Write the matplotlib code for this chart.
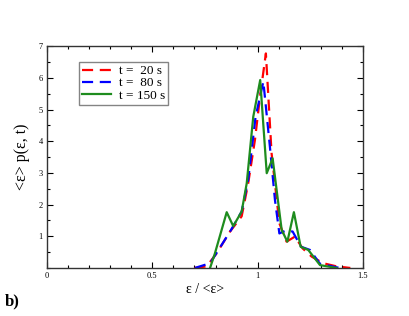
import matplotlib
matplotlib.use('Agg')
import matplotlib.pyplot as plt
from matplotlib.ticker import MultipleLocator

# 数据
x_20 = [0.70, 0.758, 0.805, 0.869, 0.924, 0.955, 0.987, 1.011, 1.039, 1.066,
        1.103, 1.137, 1.177, 1.213, 1.256, 1.311, 1.375, 1.44]
y_20 = [0.0, 0.05, 0.46, 1.15, 1.63, 2.67, 4.04, 5.40, 6.77, 3.62,
        1.41, 0.83, 0.99, 0.62, 0.36, 0.15, 0.05, 0.0]

x_80 = [0.702, 0.774, 0.869, 0.924, 0.955, 0.99, 1.027, 1.058, 1.082, 1.103,
        1.134, 1.166, 1.206, 1.248, 1.296, 1.39]
y_80 = [0.0, 0.15, 1.15, 1.78, 2.78, 4.77, 5.88, 3.83, 2.15, 1.09,
        1.18, 1.15, 0.67, 0.57, 0.13, 0.0]

x_150 = [0.774, 0.797, 0.853, 0.884, 0.924, 0.948, 0.979, 1.012, 1.043, 1.071,
         1.114, 1.141, 1.172, 1.204, 1.24, 1.296, 1.375]
y_150 = [0.0, 0.46, 1.76, 1.32, 1.78, 2.67, 4.77, 5.93, 2.99, 3.46,
         1.20, 0.83, 1.76, 0.67, 0.57, 0.09, 0.0]

labels = ['t =  20 s', 't =  80 s', 't = 150 s']

plt.rcParams['font.family'] = ['Liberation Serif', 'DejaVu Serif']
plt.rcParams['mathtext.fontset'] = 'stix'

fig = plt.figure(figsize=(4.09, 3.16), dpi=100)
ax = fig.add_axes([0.115, 0.152, 0.7725, 0.702])

ax.plot(x_20, y_20, color='#ff0000', lw=1.6, ls=(0, (5, 3)), label=labels[0])
ax.plot(x_80, y_80, color='#0000ff', lw=1.6, ls=(0, (5, 3)), label=labels[1])
ax.plot(x_150, y_150, color='#1e8c1e', lw=1.6, label=labels[2])

ax.set_xlim(0, 1.5)
ax.set_ylim(0, 7)
ax.xaxis.set_minor_locator(MultipleLocator(0.1))
ax.yaxis.set_minor_locator(MultipleLocator(0.5))
ax.set_xticks([0, 0.5, 1, 1.5])
ax.set_xticklabels(['0', '0.5', '1', '1.5'])
ax.set_yticks([1, 2, 3, 4, 5, 6, 7])
ax.set_yticklabels(['1', '2', '3', '4', '5', '6', '7'])
ax.tick_params(which='both', direction='in', top=True, right=True,
               labelsize=6, width=0.8, pad=3)
ax.tick_params(which='major', length=4)
ax.tick_params(which='minor', length=2)
for s in ax.spines.values():
    s.set_linewidth(1.0)
    s.set_color('#333333')

ax.set_xlabel('ε / <ε>', fontsize=10, labelpad=2)
ax.set_ylabel('<ε> p(ε, t)', fontsize=11.5, labelpad=6)

leg = ax.legend(loc='upper left', bbox_to_anchor=(0.1, 0.93), fontsize=9.5,
                frameon=True, fancybox=False, edgecolor='#666666',
                handlelength=2.2, handletextpad=0.6, borderpad=0.25,
                labelspacing=0.0, borderaxespad=0)
leg.get_frame().set_linewidth(1.0)

fig.text(0.012, 0.035, 'b)', fontsize=12, fontweight='bold')

fig.savefig('out.png', dpi=100)
